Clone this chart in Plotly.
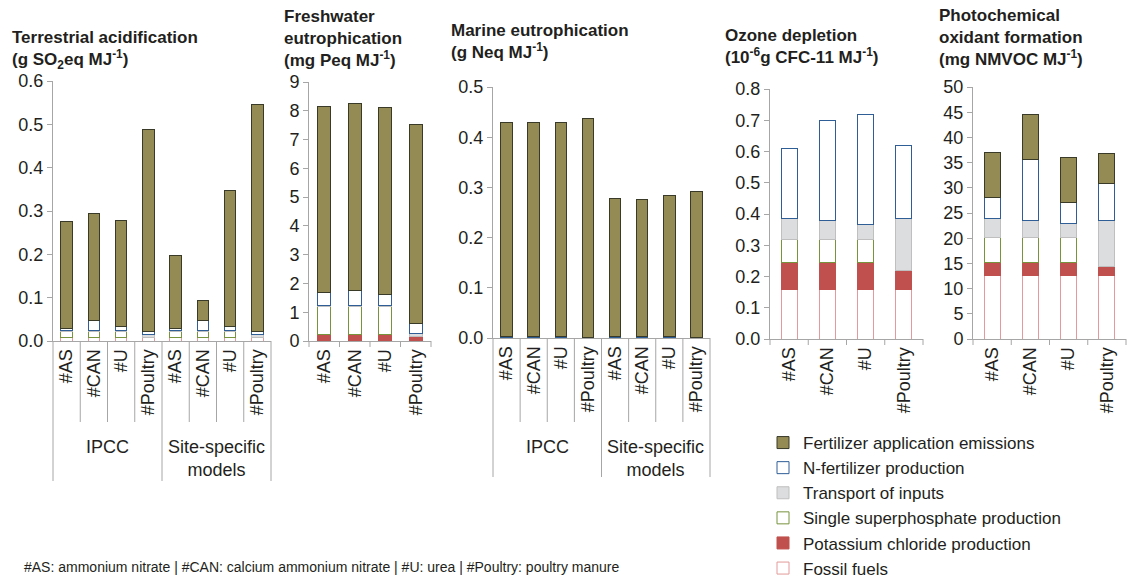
import plotly.graph_objects as go

W, H = 1127, 578
FONT = "Arial, Liberation Sans, sans-serif"
TXT = "#231F20"
AXC = "#A6A6A6"

# ---------------- data ----------------
cats8 = ["#AS", "#CAN", "#U", "#Poultry", "#AS", "#CAN", "#U", "#Poultry"]
cats4 = ["#AS", "#CAN", "#U", "#Poultry"]
group_labels = ["IPCC", "Site-specific<br>models"]

components = ["Fossil fuels", "Potassium chloride production",
              "Single superphosphate production", "Transport of inputs",
              "N-fertilizer production", "Fertilizer application emissions"]

# Terrestrial acidification (g SO2eq MJ-1) – IPCC (4) then site-specific (4)
ta_fossil = [0.0076, 0.0076, 0.0076, 0.0076, 0.0076, 0.0076, 0.0076, 0.0076]
ta_kcl = [0.001, 0.001, 0.001, 0.001, 0.001, 0.001, 0.001, 0.001]
ta_ssp = [0.013, 0.013, 0.013, 0.0, 0.013, 0.013, 0.013, 0.0]
ta_transport = [0.0036, 0.0016, 0.0016, 0.0054, 0.0036, 0.0016, 0.0016, 0.0054]
ta_nfert = [0.003, 0.024, 0.010, 0.009, 0.003, 0.024, 0.010, 0.009]
ta_appl = [0.247, 0.247, 0.245, 0.465, 0.170, 0.046, 0.315, 0.522]

# Freshwater eutrophication (mg Peq MJ-1)
fe_fossil = [0.02, 0.02, 0.02, 0.02]
fe_kcl = [0.20, 0.20, 0.20, 0.15]
fe_ssp = [0.98, 0.98, 0.98, 0.0]
fe_transport = [0.05, 0.03, 0.03, 0.10]
fe_nfert = [0.42, 0.54, 0.40, 0.33]
fe_appl = [6.49, 6.49, 6.49, 6.91]

# Marine eutrophication (g Neq MJ-1)
me_fossil = [0.0005, 0.0005, 0.0005, 0.0005, 0.0005, 0.0005, 0.0005, 0.0005]
me_kcl = [0.0, 0.0, 0.0, 0.0, 0.0, 0.0, 0.0, 0.0]
me_ssp = [0.0005, 0.0005, 0.0005, 0.0, 0.0005, 0.0005, 0.0005, 0.0]
me_transport = [0.0003, 0.0003, 0.0003, 0.0005, 0.0003, 0.0003, 0.0003, 0.0005]
me_nfert = [0.001, 0.002, 0.001, 0.0005, 0.001, 0.002, 0.001, 0.0005]
me_appl = [0.426, 0.426, 0.426, 0.435, 0.276, 0.272, 0.282, 0.290]

# Ozone depletion (10-6 g CFC-11 MJ-1)
od_fossil = [0.16, 0.16, 0.16, 0.16]
od_kcl = [0.085, 0.085, 0.085, 0.058]
od_ssp = [0.073, 0.073, 0.073, 0.0]
od_transport = [0.067, 0.062, 0.050, 0.169]
od_nfert = [0.225, 0.320, 0.352, 0.233]
od_appl = [0.0, 0.0, 0.0, 0.0]

# Photochemical oxidant formation (mg NMVOC MJ-1)
po_fossil = [12.6, 12.6, 12.6, 12.6]
po_kcl = [2.6, 2.6, 2.6, 1.7]
po_ssp = [5.0, 5.0, 5.0, 0.0]
po_transport = [3.8, 3.4, 2.8, 9.2]
po_nfert = [4.0, 12.0, 4.0, 7.3]
po_appl = [9.0, 8.9, 9.0, 6.0]

titles = [
    "<b>Terrestrial acidification<br>(g SO<sub>2</sub>eq MJ<sup>-1</sup>)</b>",
    "<b>Freshwater<br>eutrophication<br>(mg Peq MJ<sup>-1</sup>)</b>",
    "<b>Marine eutrophication<br>(g Neq MJ<sup>-1</sup>)</b>",
    "<b>Ozone depletion<br>(10<sup>-6</sup>g CFC-11 MJ<sup>-1</sup>)</b>",
    "<b>Photochemical<br>oxidant formation<br>(mg NMVOC MJ<sup>-1</sup>)</b>",
]
footnote = "#AS: ammonium nitrate | #CAN: calcium ammonium nitrate | #U: urea | #Poultry: poultry manure"

# ---------------- styles ----------------
fills = {
    "Fossil fuels": "#FFFFFF",
    "Potassium chloride production": "#C0504D",
    "Single superphosphate production": "#FFFFFF",
    "Transport of inputs": "#DCDDDE",
    "N-fertilizer production": "#FFFFFF",
    "Fertilizer application emissions": "#948A54",
}
borders = {
    "Fossil fuels": "#E39A9A",
    "Potassium chloride production": "#C0504D",
    "Single superphosphate production": "#77933C",
    "Transport of inputs": "#BFBFBF",
    "N-fertilizer production": "#2F5E97",
    "Fertilizer application emissions": "#3A3A28",
}

panels = [
    dict(cats=cats8, data=[ta_fossil, ta_kcl, ta_ssp, ta_transport, ta_nfert, ta_appl],
         px=(53, 271, 341, 81), yr=[0, 0.6], dtick=0.1, fmt=".1f", grouped=True, glow=481,
         title=titles[0], tpos=(10, 26)),
    dict(cats=cats4, data=[fe_fossil, fe_kcl, fe_ssp, fe_transport, fe_nfert, fe_appl],
         px=(309, 431, 341, 82), yr=[0, 9], dtick=1, fmt="d", grouped=False,
         title=titles[1], tpos=(282, 5)),
    dict(cats=cats8, data=[me_fossil, me_kcl, me_ssp, me_transport, me_nfert, me_appl],
         px=(493, 710, 338, 87), yr=[0, 0.5], dtick=0.1, fmt=".1f", grouped=True, glow=477,
         title=titles[2], tpos=(449, 19)),
    dict(cats=cats4, data=[od_fossil, od_kcl, od_ssp, od_transport, od_nfert, od_appl],
         px=(770, 923, 339, 89), yr=[0, 0.8], dtick=0.1, fmt=".1f", grouped=False,
         title=titles[3], tpos=(723, 24)),
    dict(cats=cats4, data=[po_fossil, po_kcl, po_ssp, po_transport, po_nfert, po_appl],
         px=(973, 1126, 339, 87), yr=[0, 50], dtick=5, fmt="d", grouped=False,
         title=titles[4], tpos=(937, 4)),
]

fig = go.Figure()
layout = {}
shapes = []
annotations = []

for i, p in enumerate(panels):
    sfx = "" if i == 0 else str(i + 1)
    xid, yid = "x" + sfx, "y" + sfx
    x0, x1, yb, yt = p["px"]
    n = len(p["cats"])
    xs = list(range(n))
    for comp, vals in zip(components, p["data"]):
        fig.add_trace(go.Bar(
            x=xs, y=[v if v > 0 else None for v in vals],
            name=comp, legendgroup=comp, showlegend=(i == 0),
            xaxis=xid, yaxis=yid, width=0.42,
            marker=dict(color=fills[comp], line=dict(color=borders[comp], width=1)),
            hoverinfo="skip",
        ))
    layout["xaxis" + sfx] = dict(
        domain=[x0 / W, x1 / W], anchor=yid, range=[-0.5, n - 0.5],
        tickmode="array", tickvals=xs, ticktext=p["cats"], tickangle=-90,
        ticks="", showline=True, linecolor=AXC, linewidth=1, showgrid=False,
        zeroline=False, tickfont=dict(family=FONT, size=18, color=TXT), fixedrange=True,
        automargin=False,
    )
    layout["yaxis" + sfx] = dict(
        domain=[1 - yb / H, 1 - yt / H], anchor=xid, range=p["yr"], dtick=p["dtick"],
        tickformat=p["fmt"], ticks="outside", ticklen=5, tickcolor=AXC,
        showline=True, linecolor=AXC, linewidth=1, showgrid=False, zeroline=False,
        tickfont=dict(family=FONT, size=18, color=TXT), fixedrange=True,
        automargin=False,
    )
    # category separators
    for k in range(n + 1):
        xpx = x0 + k * (x1 - x0) / n
        if p["grouped"]:
            low = p["glow"] if k % 4 == 0 else 422
        else:
            low = yb + 6
        shapes.append(dict(type="line", xref="paper", yref="paper",
                           x0=xpx / W, x1=xpx / W, y0=1 - yb / H, y1=1 - low / H,
                           line=dict(color=AXC, width=1)))
    if p["grouped"]:
        for g, lab in enumerate(group_labels):
            cx = x0 + (g * 4 + 2) * (x1 - x0) / n
            annotations.append(dict(text=lab, x=cx / W, y=1 - 435 / H, xref="paper", yref="paper",
                                    xanchor="center", yanchor="top", showarrow=False,
                                    font=dict(family=FONT, size=18, color=TXT)))
    tx, ty = p["tpos"]
    annotations.append(dict(text=p["title"], x=tx / W, y=1 - ty / H, xref="paper", yref="paper",
                            xanchor="left", yanchor="top", align="left", showarrow=False,
                            font=dict(family=FONT, size=17, color=TXT)))

annotations.append(dict(text=footnote, x=22 / W, y=1 - 567 / H, xref="paper", yref="paper",
                        xanchor="left", yanchor="middle", showarrow=False,
                        font=dict(family=FONT, size=14, color=TXT)))

fig.update_layout(
    **layout,
    width=W, height=H, margin=dict(l=0, r=0, t=0, b=0, autoexpand=False),
    paper_bgcolor="white", plot_bgcolor="white",
    barmode="stack", bargap=0.5,
    shapes=shapes, annotations=annotations,
    legend=dict(x=763 / W, y=1 - 425 / H, xanchor="left", yanchor="top",
                traceorder="reversed", bgcolor="rgba(0,0,0,0)",
                font=dict(family=FONT, size=17, color=TXT), tracegroupgap=0,
                itemwidth=30),
    font=dict(family=FONT, color=TXT),
)

fig.write_html("out.html", config={"displayModeBar": False, "staticPlot": False},
               post_script="document.body.style.margin='0px';document.body.style.overflow='hidden';")
